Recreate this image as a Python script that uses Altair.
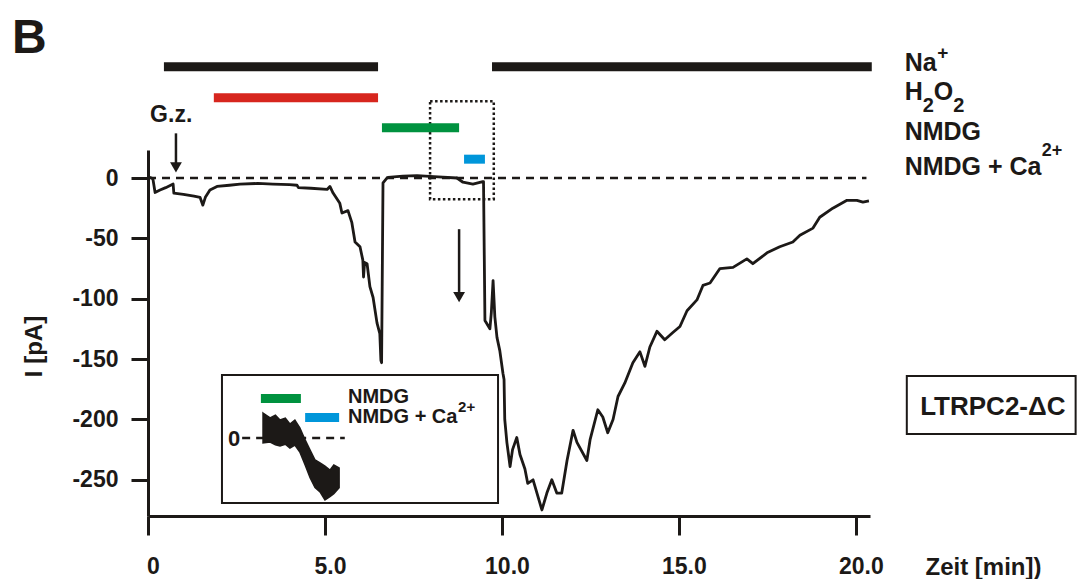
import altair as alt
import pandas as pd

FONT = "Liberation Sans"
INK = "#1c1917"

# ---- main current trace (time in min, current in pA) ----
trace_t = [0.00, 0.10, 0.14, 0.20, 0.34, 0.50, 0.71, 0.73, 1.00, 1.30,
           1.47, 1.55, 1.62, 1.75, 1.95, 2.30, 2.60, 3.10, 3.53, 4.00,
           4.21, 4.25, 4.60, 5.06, 5.14, 5.23, 5.42, 5.48, 5.65, 5.76,
           5.85, 5.99, 6.07, 6.09, 6.12, 6.19, 6.27, 6.36, 6.47, 6.55,
           6.58, 6.60, 6.64, 6.75, 6.78, 7.20, 7.60, 8.20, 8.73, 8.90,
           9.18, 9.46, 9.48, 9.52, 9.58, 9.66, 9.70, 9.75, 9.80, 9.86,
           9.94, 10.03, 10.06, 10.08, 10.14, 10.23, 10.30, 10.42, 10.51, 10.65,
           10.73, 10.88, 10.99, 11.13, 11.27, 11.41, 11.55, 11.69, 11.84, 12.01,
           12.12, 12.40, 12.49, 12.71, 12.85, 12.99, 13.14, 13.28, 13.47, 13.70,
           13.90, 14.04, 14.18, 14.38, 14.60, 14.83, 15.03, 15.23, 15.51, 15.68,
           15.88, 16.16, 16.53, 16.92, 17.09, 17.49, 17.85, 18.22, 18.42, 18.79,
           18.98, 19.35, 19.75, 20.03, 20.20, 20.37]
trace_pA = [1, 0, -1, -12, -10, -8, -5, -12.5, -13.5, -15,
            -16, -22.5, -16, -10, -7, -6, -5, -4.5, -5, -5.5,
            -6, -8, -8.5, -9.5, -7, -12.5, -21, -29, -27, -37,
            -53, -57, -68, -82, -70, -71, -90, -99, -120, -129,
            -151, -153, -4, 0, 0.5, 1.5, 2, 1, 0, -3.5,
            -5, -3, -3, -118, -121, -125, -112, -85, -115, -132,
            -143, -162, -167, -200, -219, -239, -225, -215, -229, -241,
            -253, -250, -261, -275, -261, -250, -261, -261, -234, -209,
            -219, -234, -217, -192, -198, -211, -200, -181, -170, -153,
            -144, -156, -140, -127, -134, -128, -123, -110, -101, -89,
            -87, -75, -74, -67, -71, -62, -57, -53, -47.5, -41.5,
            -32.5, -25, -18.5, -18.5, -20, -19]

# ---- inset trace envelope (drawn in main-axis units) ----
inset_t = [3.25, 3.45, 3.60, 3.73, 3.88, 4.01, 4.15, 4.29, 4.44, 4.58, 4.72, 4.86, 5.00, 5.14, 5.25, 5.40]
inset_top = [-194.7, -198.8, -196.5, -200.5, -199, -203.8, -200.5, -207, -217, -225.3, -233.6, -236,
             -238.6, -242, -237.8, -240.2]
inset_bottom = [-219.5, -218.7, -221, -222, -220.5, -223.7, -221.2, -227, -237.8, -248.3, -256.5, -260,
                -266.7, -264, -261.5, -256.5]

# ---- application bars ----
bar_names = ["Na+", "Na+", "H2O2", "NMDG", "NMDG + Ca2+", "NMDG", "NMDG + Ca2+"]
bar_start = [0.45, 9.72, 1.86, 6.61, 8.93, 3.19, 4.44]
bar_end = [6.50, 20.45, 6.50, 8.79, 9.52, 4.32, 5.40]
bar_level = [92.1, 92.1, 66.5, 41.6, 15.6, -182.7, -198.4]
bar_color = [INK, INK, "#d7261e", "#00923f", "#0096da", "#00923f", "#0096da"]

# ---- frames ----
box_names = ["zoom", "inset", "label"]
box_t0 = [7.97, 2.09, 21.44]
box_t1 = [9.77, 9.89, 26.21]
box_p0 = [63.6, -163.2, -164]
box_p1 = [-17.5, -269.2, -212]

# ---- texts ----
text_labels = ["B", "G.z.", "Na", "+", "H", "2", "O", "2", "NMDG", "NMDG + Ca", "2+",
               "NMDG", "NMDG + Ca", "2+", "0"]
text_t = [-3.84, 0.06, 21.38, 22.30, 21.38, 21.89, 22.20, 22.75, 21.38, 21.38, 25.25,
          5.65, 5.65, 8.76, 2.26]
text_pA = [103.3, 46.2, 88.4, 98.5, 64.4, 54.5, 64.4, 54.5, 31.3, 2.3, 18,
           -186.5, -203, -194, -222]
text_size = [48, 23, 25, 19, 25, 20, 25, 20, 25, 25, 18, 20, 20, 15, 22]

xs = alt.Scale(domain=[0, 20.4], nice=False, zero=False)
ys = alt.Scale(domain=[-280, 23.2], nice=False, zero=False)

AX = alt.Axis(values=[0, 5, 10, 15, 20],
              labelExpr="datum.value == 0 ? '0' : format(datum.value, '.1f')",
              grid=False, domainColor=INK, domainWidth=3, tickColor=INK,
              tickWidth=3, tickSize=19, labelFont=FONT, labelFontSize=23,
              labelFontWeight="bold", labelColor=INK, labelPadding=20,
              labelOffset=5, labelFlush=False,
              title="Zeit [min])", titleFont=FONT, titleFontSize=24,
              titleFontWeight="bold", titleColor=INK, titleX=835, titleY=51,
              titleAlign="center", titleBaseline="middle")
AY = alt.Axis(values=[0, -50, -100, -150, -200, -250],
              labelExpr="datum.value < 0 ? '-' + format(-datum.value, 'd') : format(datum.value, 'd')",
              grid=False, domainColor=INK, domainWidth=3, tickColor=INK,
              tickWidth=3, tickSize=17, labelFont=FONT, labelFontSize=23,
              labelFontWeight="bold", labelColor=INK, labelPadding=13,
              title="I [pA]", titleFont=FONT, titleFontSize=24,
              titleFontWeight="bold", titleColor=INK, titleAngle=270,
              titleX=-114, titleY=196, titleAlign="center",
              titleBaseline="middle")


def X(f):
    return alt.X(f, type="quantitative", scale=xs, axis=AX)


def Y(f):
    return alt.Y(f, type="quantitative", scale=ys, axis=AY)


trace_df = pd.DataFrame({"t": trace_t, "pA": trace_pA})
inset_df = pd.DataFrame({"t": inset_t, "top": inset_top, "bottom": inset_bottom})
bars_df = pd.DataFrame({"name": bar_names, "t0": bar_start, "t1": bar_end,
                        "lvl": bar_level, "color": bar_color})
box_df = pd.DataFrame({"name": box_names, "t0": box_t0, "t1": box_t1, "p0": box_p0, "p1": box_p1})
text_df = pd.DataFrame({"label": text_labels, "t": text_t, "pA": text_pA, "size": text_size})

frames = alt.Chart(box_df[box_df.name != "zoom"]).mark_rect(
    fill="white", stroke=INK, strokeWidth=2).encode(
    x=X("t0"), x2="t1", y=Y("p0"), y2="p1")

dotted = alt.Chart(box_df[box_df.name == "zoom"]).mark_rect(
    fillOpacity=0, stroke=INK, strokeWidth=2.5, strokeDash=[2.5, 2.5]).encode(
    x=X("t0"), x2="t1", y=Y("p0"), y2="p1")

zero_df = pd.DataFrame({"t0": [0, 2.66], "t1": [20.3, 5.56], "lvl": [0, -215.4]})
zero_line = alt.Chart(zero_df).mark_rule(color=INK, strokeWidth=2.5, strokeDash=[8, 6]).encode(
    x=X("t0"), x2="t1", y=Y("lvl"))

bars = alt.Chart(bars_df).mark_rule(strokeWidth=9).encode(
    x=X("t0"), x2="t1", y=Y("lvl"), color=alt.Color("color:N", scale=None, legend=None))

trace = alt.Chart(trace_df).mark_line(color=INK, strokeWidth=2.8, strokeJoin="round").encode(
    x=X("t"), y=Y("pA"), order="t:Q")

inset = alt.Chart(inset_df).mark_area(color=INK, stroke=INK, strokeWidth=1.5).encode(
    x=X("t"), y=Y("top"), y2="bottom")

texts = alt.Chart(text_df).mark_text(align="left", baseline="alphabetic", font=FONT,
                                     fontWeight="bold", color=INK).encode(
    x=X("t"), y=Y("pA"), text="label:N", size=alt.Size("size:Q", scale=None, legend=None))

label_df = pd.DataFrame({"label": ["LTRPC2-\u0394C"], "t": [23.87], "pA": [-196.4]})
label_text = alt.Chart(label_df).mark_text(align="center", baseline="alphabetic", font=FONT,
                                           fontWeight="bold", fontSize=26, color=INK).encode(
    x=X("t"), y=Y("pA"), text="label:N")

arrow_df = pd.DataFrame({"t": [0.79, 8.79], "p0": [37, -42.4], "p1": [10.6, -94.4],
                         "head": [8.9, -98.7]})
shafts = alt.Chart(arrow_df).mark_rule(color=INK, strokeWidth=2.5).encode(
    x=X("t"), y=Y("p0"), y2="p1")
heads = alt.Chart(arrow_df).mark_point(shape="triangle-down", filled=True, size=140,
                                       color=INK, opacity=1).encode(
    x=X("t"), y=Y("head"))

chart = alt.layer(
    frames, dotted, zero_line, bars, trace, inset, texts, label_text, shafts, heads
).properties(
    width=722, height=366,
    padding={"left": 148, "top": 150, "right": 207, "bottom": 63},
    autosize=alt.AutoSizeParams(type="none"),
    background="white",
).configure_view(strokeWidth=0)

chart.save("out.html", embed_options={"renderer": "svg", "actions": False})
